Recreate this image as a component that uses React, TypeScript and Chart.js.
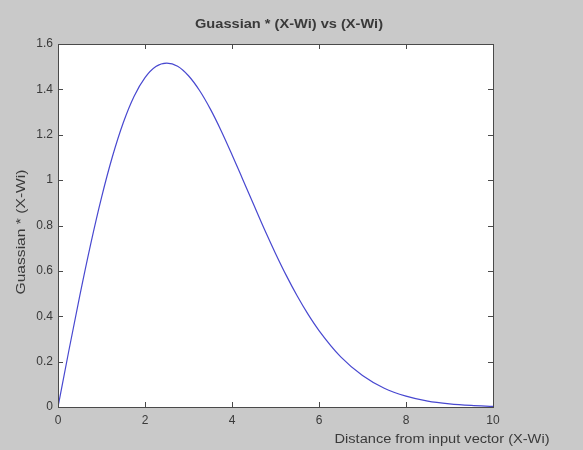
import React, { useEffect, useRef } from "react";
import { Chart, registerables } from "chart.js";

Chart.register(...registerables);

const distance = [
  0, 0.25, 0.5, 0.75, 1, 1.25, 1.5, 1.75, 2, 2.25, 2.5, 2.75, 3, 3.25, 3.5, 3.75,
  4, 4.25, 4.5, 4.75, 5, 5.25, 5.5, 5.75, 6, 6.5, 7, 7.5, 8, 8.5, 9, 9.5, 10,
];
const response = [
  0, 0.249, 0.49, 0.717, 0.923, 1.103, 1.253, 1.37, 1.452, 1.501, 1.516, 1.502,
  1.46, 1.396, 1.314, 1.218, 1.112, 1.002, 0.891, 0.781, 0.677, 0.579, 0.489,
  0.408, 0.337, 0.221, 0.139, 0.083, 0.048, 0.026, 0.014, 0.007, 0.003,
];
const xTickValues = [0, 2, 4, 6, 8, 10];
const yTickValues = [0, 0.2, 0.4, 0.6, 0.8, 1, 1.2, 1.4, 1.6];
const titleText = "Guassian * (X-Wi) vs (X-Wi)";
const yAxisLabel = "Guassian * (X-Wi)";
const xAxisLabel = "Distance from input vector (X-Wi)";

const FONT = "'Liberation Sans', Arial, Helvetica, sans-serif";
const TEXT = "#3a3a3a";
const FRAME = "#4a4a4a";

function fitText(ctx: any, text: string, cx: number, cy: number, width: number, font: string, rotate = false) {
  ctx.save();
  ctx.font = font;
  ctx.textAlign = "center";
  ctx.textBaseline = "middle";
  const w = ctx.measureText(text).width;
  ctx.translate(cx, cy);
  if (rotate) ctx.rotate(-Math.PI / 2);
  ctx.scale(width / w, 1);
  ctx.fillText(text, 0, 0);
  ctx.restore();
}

const framePlugin = {
  id: "matlabFrame",
  beforeDraw(chart: any) {
    const { ctx, chartArea: a } = chart;
    ctx.save();
    ctx.fillStyle = "#ffffff";
    ctx.fillRect(a.left, a.top, a.right - a.left, a.bottom - a.top);
    ctx.restore();
  },
  afterDraw(chart: any) {
    const { ctx, chartArea: a, scales } = chart;
    ctx.save();
    ctx.strokeStyle = FRAME;
    ctx.lineWidth = 1;
    ctx.strokeRect(a.left + 0.5, a.top + 0.5, a.right - a.left, a.bottom - a.top);
    const tl = 5;
    ctx.beginPath();
    for (const v of xTickValues) {
      const px = Math.round(scales.x.getPixelForValue(v)) + 0.5;
      ctx.moveTo(px, a.bottom);
      ctx.lineTo(px, a.bottom - tl);
      ctx.moveTo(px, a.top);
      ctx.lineTo(px, a.top + tl);
    }
    for (const v of yTickValues) {
      const py = Math.round(scales.y.getPixelForValue(v)) + 0.5;
      ctx.moveTo(a.left, py);
      ctx.lineTo(a.left + tl, py);
      ctx.moveTo(a.right, py);
      ctx.lineTo(a.right - tl, py);
    }
    ctx.stroke();

    ctx.fillStyle = TEXT;
    fitText(ctx, titleText, 289, 25, 188, `bold 12px ${FONT}`);
    fitText(ctx, xAxisLabel, 442, 440, 215, `12px ${FONT}`);
    fitText(ctx, yAxisLabel, 22, 232, 125, `12px ${FONT}`, true);
    ctx.restore();
  },
};

export default function App() {
  const ref = useRef<HTMLCanvasElement>(null);

  useEffect(() => {
    if (!ref.current) return;
    const chart = new Chart(ref.current, {
      type: "line",
      data: {
        datasets: [
          {
            data: distance.map((x, i) => ({ x, y: response[i] })),
            borderColor: "#4848d0",
            borderWidth: 1.2,
            pointRadius: 0,
            cubicInterpolationMode: "monotone",
            fill: false,
          },
        ],
      },
      plugins: [framePlugin],
      options: {
        animation: false,
        responsive: false,
        devicePixelRatio: 1,
        layout: { padding: { left: 0, right: 90, top: 44, bottom: 0 } },
        plugins: { legend: { display: false }, tooltip: { enabled: false }, title: { display: false } },
        scales: {
          x: {
            type: "linear",
            min: 0,
            max: 10,
            afterBuildTicks: (s: any) => {
              s.ticks = xTickValues.map((v) => ({ value: v }));
            },
            afterFit: (s: any) => {
              s.height = 43;
            },
            grid: { display: false, drawTicks: false },
            border: { display: false },
            ticks: {
              padding: 6,
              color: TEXT,
              font: { family: FONT, size: 12 },
              maxRotation: 0,
              callback: (v: any) => String(v),
            },
          },
          y: {
            type: "linear",
            min: 0,
            max: 1.6,
            afterBuildTicks: (s: any) => {
              s.ticks = yTickValues.map((v) => ({ value: v }));
            },
            afterFit: (s: any) => {
              s.width = 58;
            },
            grid: { display: false, drawTicks: false },
            border: { display: false },
            ticks: {
              padding: 5,
              color: TEXT,
              font: { family: FONT, size: 12 },
              callback: (v: any) => String(Math.round(Number(v) * 10) / 10),
            },
          },
        },
      },
    } as any);
    return () => chart.destroy();
  }, []);

  return (
    <div style={{ position: "fixed", left: 0, top: 0, width: 583, height: 450, background: "#c9c9c9" }}>
      <canvas ref={ref} width={583} height={450} style={{ display: "block", width: 583, height: 450 }} />
    </div>
  );
}
